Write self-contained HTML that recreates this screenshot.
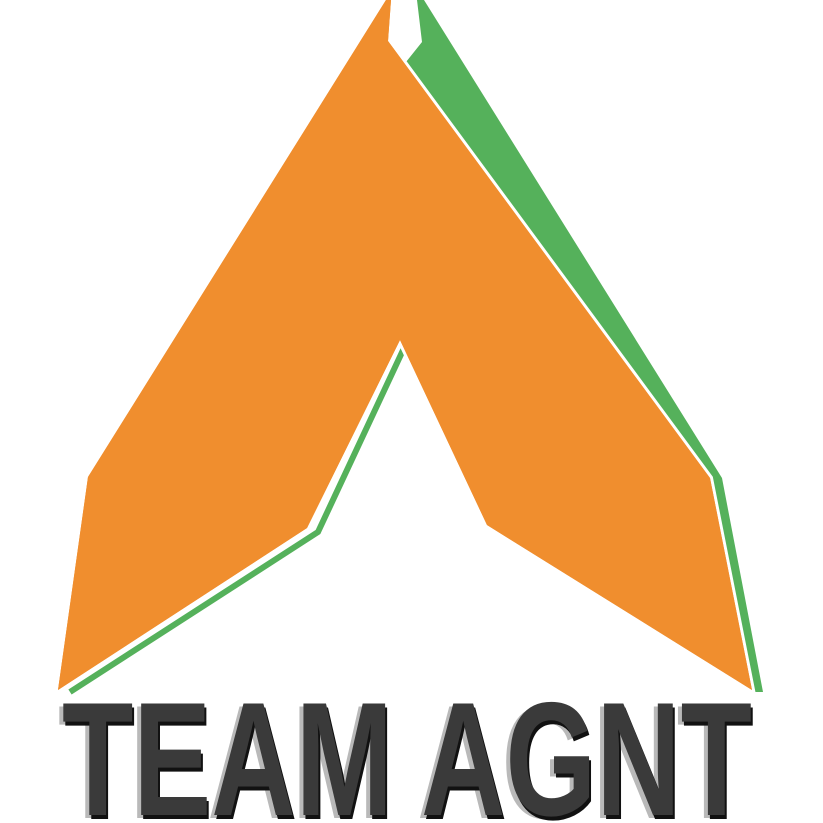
<!DOCTYPE html>
<html><head><meta charset="utf-8">
<style>
html,body{margin:0;padding:0;background:#fff;width:823px;height:823px;overflow:hidden}
svg{display:block}
</style></head>
<body>
<svg width="823" height="823" viewBox="0 0 823 823">
  <polygon fill="#55b15b"
    points="417,0 424,0 722,478 763,692 754,692 712,480 406,62 422,42"/>
  <polyline fill="none" stroke="#55b15b" stroke-width="6" stroke-linejoin="miter"
    points="70,692 318,532 404,348"/>
  <polygon fill="#f08e2e" stroke="#fff" stroke-width="6" paint-order="stroke" stroke-linejoin="miter"
    points="386,0 391,0 388,41 710,478 752,690 487,525 400,340 307,528 58,690 88,477"/>
  <polygon fill="#f08e2e"
    points="386,0 391,0 388,41 710,478 752,690 487,525 400,340 307,528 58,690 88,477"/>
  <text x="58" y="818" textLength="690" lengthAdjust="spacingAndGlyphs"
    font-family="'Liberation Sans Narrow','Liberation Sans',sans-serif" font-weight="bold" font-size="162" fill="#a8a8a8" opacity="0.8">TEAM AGNT</text>
  <text x="64" y="819" textLength="690" lengthAdjust="spacingAndGlyphs"
    font-family="'Liberation Sans Narrow','Liberation Sans',sans-serif" font-weight="bold" font-size="162" fill="#111">TEAM AGNT</text>
  <text x="62" y="815" textLength="690" lengthAdjust="spacingAndGlyphs"
    font-family="'Liberation Sans Narrow','Liberation Sans',sans-serif" font-weight="bold" font-size="162" fill="#3a3a3a">TEAM AGNT</text>
</svg>
</body></html>
